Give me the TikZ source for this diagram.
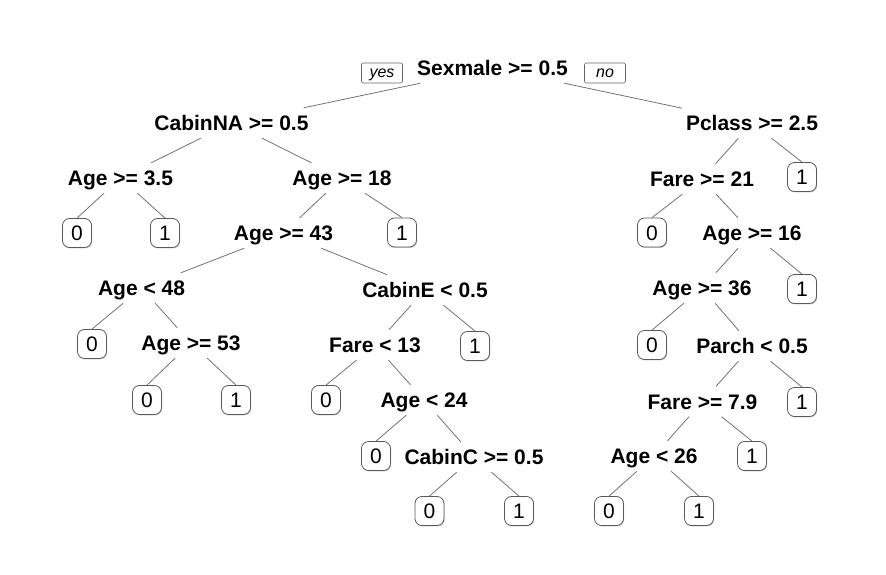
\documentclass[tikz,border=0pt]{standalone}
\usepackage{fontspec}
\setmainfont{Liberation Sans}
\usetikzlibrary{shadows}
\definecolor{branchgray}{gray}{0.45}
\tikzset{
  split/.style={font=\bfseries\fontsize{21}{25}\selectfont, text height=15pt, text depth=0pt,
    inner xsep=4pt, inner ysep=0pt, minimum height=30pt},
  leaf/.style={draw=black!65, line width=0.8pt, rounded corners=7pt, fill=white,
    font=\fontsize{21}{25}\selectfont, text height=15pt, text depth=0pt, inner sep=0pt,
    minimum width=29pt, minimum height=29pt,
    drop shadow={shadow xshift=0.7pt, shadow yshift=-0.9pt, fill=black!40}},
  answer/.style={draw=black!60, line width=0.6pt, rounded corners=2pt,
    font=\itshape\fontsize{16}{19}\selectfont, text height=8.5pt, text depth=0pt,
    inner sep=0pt, minimum width=41pt, minimum height=20pt},
  branch/.style={branchgray, line width=0.8pt}
}
\begin{document}
\begin{tikzpicture}[x=1pt,y=-1pt]
  \useasboundingbox (0,0) rectangle (886,575);
  % split labels
  \node[split] (sex) at (492.5,68) {Sexmale >= 0.5};
  \node[answer] (yes) at (382,73) {yes};
  \node[answer] (no) at (605,73) {no};
  \node[split] (cabinna) at (231.5,123) {CabinNA >= 0.5};
  \node[split] (pclass) at (752,123) {Pclass >= 2.5};
  \node[split] (age35) at (120.5,178) {Age >= 3.5};
  \node[split] (age18) at (342,178) {Age >= 18};
  \node[split] (fare21) at (702,179) {Fare >= 21};
  \node[split] (age43) at (283.5,233) {Age >= 43};
  \node[split] (age16) at (752,233) {Age >= 16};
  \node[split] (age48) at (141.5,288) {Age < 48};
  \node[split] (cabine) at (425,290) {CabinE < 0.5};
  \node[split] (age36) at (702,288) {Age >= 36};
  \node[split] (age53) at (191,343) {Age >= 53};
  \node[split] (fare13) at (375,345) {Fare < 13};
  \node[split] (parch) at (752,346) {Parch < 0.5};
  \node[split] (age24) at (424,400) {Age < 24};
  \node[split] (fare79) at (702.5,401.5) {Fare >= 7.9};
  \node[split] (cabinc) at (474,457) {CabinC >= 0.5};
  \node[split] (age26) at (654,456) {Age < 26};
  % leaves
  \node[leaf] (pclassR) at (802,177) {1};
  \node[leaf] (age35L) at (77,233) {0};
  \node[leaf] (age35R) at (165,233) {1};
  \node[leaf] (age18R) at (402,232.5) {1};
  \node[leaf] (fare21L) at (652,232.5) {0};
  \node[leaf] (age16R) at (802,289) {1};
  \node[leaf] (age48L) at (92,344) {0};
  \node[leaf] (cabineR) at (475,346) {1};
  \node[leaf] (age36L) at (652,345) {0};
  \node[leaf] (age53L) at (147,400) {0};
  \node[leaf] (age53R) at (236,400) {1};
  \node[leaf] (fare13L) at (326,400) {0};
  \node[leaf] (parchR) at (802,402) {1};
  \node[leaf] (age24L) at (376,456) {0};
  \node[leaf] (fare79R) at (752,456) {1};
  \node[leaf] (cabincL) at (429.5,511) {0};
  \node[leaf] (cabincR) at (519,511) {1};
  \node[leaf] (age26L) at (609,511) {0};
  \node[leaf] (age26R) at (699,511) {1};
  % branches
  \draw[branch] (sex) -- (cabinna);
  \draw[branch] (sex) -- (pclass);
  \draw[branch] (cabinna) -- (age35);
  \draw[branch] (cabinna) -- (age18);
  \draw[branch] (pclass) -- (fare21);
  \draw[branch] (pclass) -- (pclassR.north);
  \draw[branch] (age35) -- (age35L.north);
  \draw[branch] (age35) -- (age35R.north);
  \draw[branch] (age18) -- (age43);
  \draw[branch] (age18) -- (age18R.north);
  \draw[branch] (fare21) -- (fare21L.north);
  \draw[branch] (fare21) -- (age16);
  \draw[branch] (age43) -- (age48);
  \draw[branch] (age43) -- (cabine);
  \draw[branch] (age16) -- (age36);
  \draw[branch] (age16) -- (age16R.north);
  \draw[branch] (age48) -- (age48L.north);
  \draw[branch] (age48) -- (age53);
  \draw[branch] (cabine) -- (fare13);
  \draw[branch] (cabine) -- (cabineR.north);
  \draw[branch] (age36) -- (age36L.north);
  \draw[branch] (age36) -- (parch);
  \draw[branch] (age53) -- (age53L.north);
  \draw[branch] (age53) -- (age53R.north);
  \draw[branch] (fare13) -- (fare13L.north);
  \draw[branch] (fare13) -- (age24);
  \draw[branch] (parch) -- (fare79);
  \draw[branch] (parch) -- (parchR.north);
  \draw[branch] (age24) -- (age24L.north);
  \draw[branch] (age24) -- (cabinc);
  \draw[branch] (fare79) -- (age26);
  \draw[branch] (fare79) -- (fare79R.north);
  \draw[branch] (cabinc) -- (cabincL.north);
  \draw[branch] (cabinc) -- (cabincR.north);
  \draw[branch] (age26) -- (age26L.north);
  \draw[branch] (age26) -- (age26R.north);
\end{tikzpicture}
\end{document}
